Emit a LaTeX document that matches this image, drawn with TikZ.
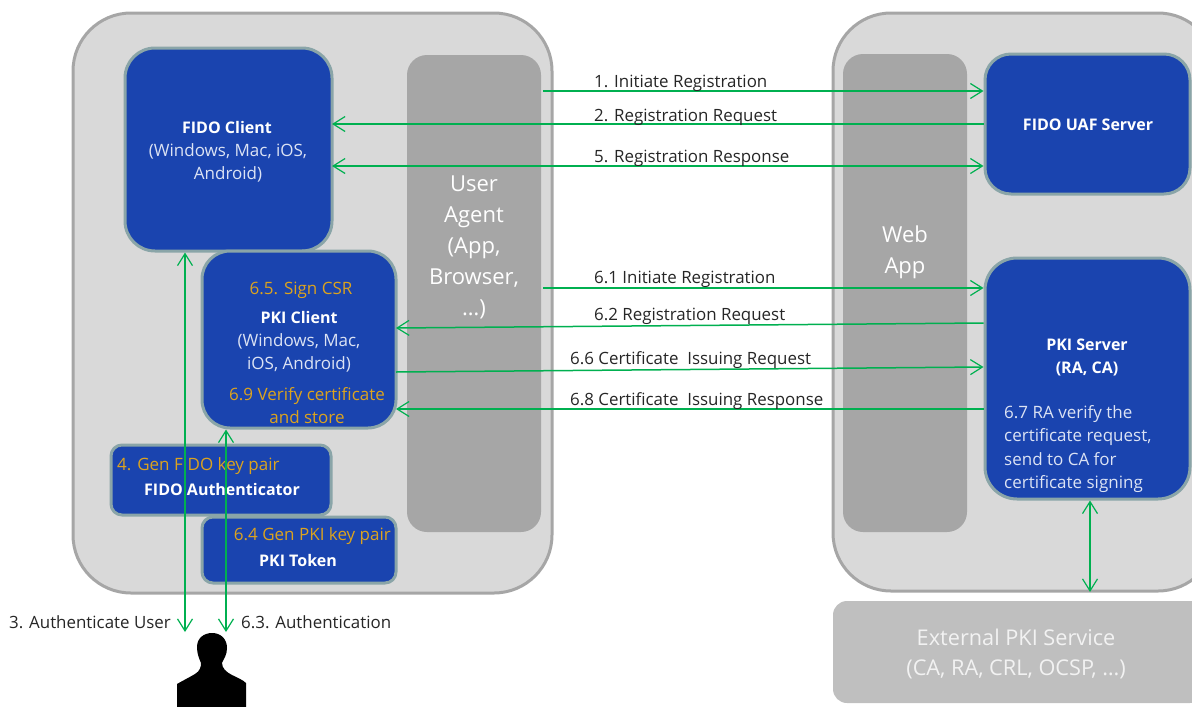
\documentclass[tikz,border=0pt]{standalone}
\usepackage{fontspec}
\setmainfont{Open Sans}
\usepackage{tikz}
\usetikzlibrary{calc}
\usetikzlibrary{arrows.meta}
\definecolor{shellfill}{HTML}{D9D9D9}
\definecolor{shelledge}{HTML}{A6A6A6}
\definecolor{appfill}{HTML}{A6A6A6}
\definecolor{extfill}{HTML}{BFBFBF}
\definecolor{exttext}{HTML}{F2F2F2}
\definecolor{boxfill}{HTML}{1A44AF}
\definecolor{boxedge}{HTML}{8AA5A8}
\definecolor{flowgreen}{HTML}{00B050}
\definecolor{stepgold}{HTML}{DCA31E}
\definecolor{subtext}{HTML}{DCE3F4}
\definecolor{labltext}{HTML}{262626}
\tikzset{
  shell/.style={draw=shelledge, fill=shellfill, line width=3pt, rounded corners=58pt},
  appbar/.style={fill=appfill, rounded corners=20pt},
  applabl/.style={text=white, align=center, inner sep=0pt, font=\fontsize{22}{31}\selectfont},
  bluebox/.style={draw=boxedge, fill=boxfill, line width=3pt},
  flow/.style={draw=flowgreen, line width=1.5pt, -{Straight Barb[length=12pt,width=15pt,line width=1.2pt]}},
  flowboth/.style={flow, {Straight Barb[length=12pt,width=15pt,line width=1.2pt]}-{Straight Barb[length=12pt,width=15pt,line width=1.2pt]}},
  flowlabl/.style={anchor=base west, text=labltext, inner sep=0pt, font=\fontsize{16.9}{18}\selectfont},
  boxtitle/.style={text=white, inner sep=0pt, font=\fontsize{16}{23}\selectfont\bfseries},
  boxsub/.style={text=subtext, inner sep=0pt, align=center, font=\fontsize{17}{23.5}\selectfont},
  boxstep/.style={text=stepgold, inner sep=0pt, align=center, font=\fontsize{17}{23}\selectfont},
}
% x0 y0 x1 y1 name style
\newcommand{\boxat}[6]{\node[#6, inner sep=0pt, minimum width=#3pt-#1pt, minimum height=#4pt-#2pt] (#5) at ({(#1+#3)/2},{(#2+#4)/2}) {};}
\begin{document}
\begin{tikzpicture}[x=1pt,y=-1pt]
    \useasboundingbox (0,0) rectangle (1192,707);
    \clip (0,0) rectangle (1192,707);

    % shells
    \boxat{73}{13}{552}{593}{device}{shell}
    \boxat{833}{13}{1216}{591}{backend}{shell}

    % grey bars
    \boxat{407}{55}{541}{532}{agent}{appbar}
    \boxat{843}{54}{967}{532}{webapp}{appbar}
    \boxat{833}{601}{1204}{703}{external}{fill=extfill, rounded corners=14pt}
    \node[applabl] (agentlabl) at (474,247) {User\\Agent\\(App,\\Browser,\\\dots)};
    \node[applabl] (webapplabl) at (905,252.5) {Web\\App};
    \node[text=exttext, align=center, inner sep=0pt, font=\fontsize{21.7}{30}\selectfont] (externallabl) at (1016,654) {External PKI Service\\(CA, RA, CRL, OCSP, \dots)};

    % blue boxes
    \boxat{125}{48}{332}{251}{fidoclient}{bluebox, rounded corners=30pt}
    \boxat{202}{251}{396}{428}{pkiclient}{bluebox, rounded corners=28pt}
    \boxat{111}{445}{331}{515}{fidoauth}{bluebox, rounded corners=11pt}
    \boxat{202}{517}{396}{583}{pkitoken}{bluebox, rounded corners=11pt}
    \boxat{985}{54}{1190}{194}{uafserver}{bluebox, rounded corners=26pt}
    \boxat{985}{258}{1190}{499}{pkiserver}{bluebox, rounded corners=32pt}

    % box texts
    \node[boxtitle] (fidoclienttitle) at (227,127) {FIDO Client};
    \node[boxsub] (fidoclientsub) at (228,163) {(Windows, Mac, iOS,\\Android)};
    \node[boxstep] (signcsr) at (301,290) {6.5. Sign CSR};
    \node[boxtitle] (pkiclienttitle) at (299,317) {PKI Client};
    \node[boxsub] (pkiclientsub) at (299,353) {(Windows, Mac,\\iOS, Android)};
    \node[boxstep] (verifycert) at (307,406) {6.9 Verify certificate\\and store};
    \node[boxstep, anchor=west] (genfido) at (117,466) {4. Gen FIDO key pair};
    \node[boxtitle] (fidoauthtitle) at (222,489) {FIDO Authenticator};
    \node[boxstep, anchor=east] (genpki) at (391,536) {6.4 Gen PKI key pair};
    \node[boxtitle] (pkitokentitle) at (298,560) {PKI Token};
    \node[boxtitle] (uaftitle) at (1088,125) {FIDO UAF Server};
    \node[boxtitle, align=center] (pkiservertitle) at (1087,357) {PKI Server\\(RA, CA)};
    \node[boxsub, align=left, anchor=north west] (raverify) at (1004,405) {6.7 RA verify the\\certificate request,\\send to CA for\\certificate signing};

    % person
    \fill[black] (197,647) .. controls (197,638) and (204,633) .. (212,633)
        .. controls (221,633) and (227,639) .. (227,648)
        .. controls (227,655) and (224,658) .. (222,663)
        .. controls (222,668) and (226,672) .. (232,675)
        .. controls (238,678) and (243,680) .. (246,683)
        -- (246,707) -- (177,707) -- (177,684)
        .. controls (184,680) and (190,677) .. (195,674)
        .. controls (200,671) and (201,667) .. (201,663)
        .. controls (199,658) and (197,654) .. (197,647) -- cycle;
    \coordinate (usertopa) at (185,632);
    \coordinate (usertopb) at (226,632);
    \coordinate (extarrow) at (1090,592);

    % row 1 flows
    \draw[flow] ([xshift=2pt]agent.east |- 0,91) -- (uafserver.west |- 0,91);
    \draw[flow] (uafserver.west |- 0,124) -- ([xshift=-1.5pt]fidoclient.east |- 0,124);
    \draw[flowboth] ([xshift=-1.5pt]fidoclient.east |- 0,166) -- (uafserver.west |- 0,166);
    \node[flowlabl] (lablone) at (594,87) {1. Initiate Registration};
    \node[flowlabl] (labltwo) at (594,121) {2. Registration Request};
    \node[flowlabl] (lablfive) at (594,162) {5. Registration Response};

    % row 2 flows
    \draw[flow] ([xshift=2pt]agent.east |- 0,288) -- (pkiserver.west |- 0,288);
    \draw[flow] (pkiserver.west |- 0,323) -- ([xshift=-1.5pt]pkiclient.east |- 0,328);
    \draw[flow] ([xshift=-1.5pt]pkiclient.east |- 0,372) -- (pkiserver.west |- 0,367);
    \draw[flow] (pkiserver.west |- 0,409) -- ([xshift=-1.5pt]pkiclient.east |- 0,409);
    \node[flowlabl] (lablsixone) at (594,283) {6.1 Initiate Registration};
    \node[flowlabl] (lablsixtwo) at (594,320) {6.2 Registration Request};
    \node[flowlabl] (lablsixsix) at (570,364) {6.6 Certificate~ Issuing Request};
    \node[flowlabl] (lablsixeight) at (570,405) {6.8 Certificate~ Issuing Response};

    % vertical flows
    \draw[flowboth] (usertopa |- fidoclient.south) -- (usertopa);
    \draw[flowboth] (usertopb |- pkiclient.south) -- (usertopb);
    \draw[flowboth] (extarrow |- pkiserver.south) -- (extarrow);
    \node[flowlabl] (lablthree) at (9,628) {3. Authenticate User};
    \node[flowlabl] (lablsixthree) at (241,628) {6.3. Authentication};
\end{tikzpicture}
\end{document}
